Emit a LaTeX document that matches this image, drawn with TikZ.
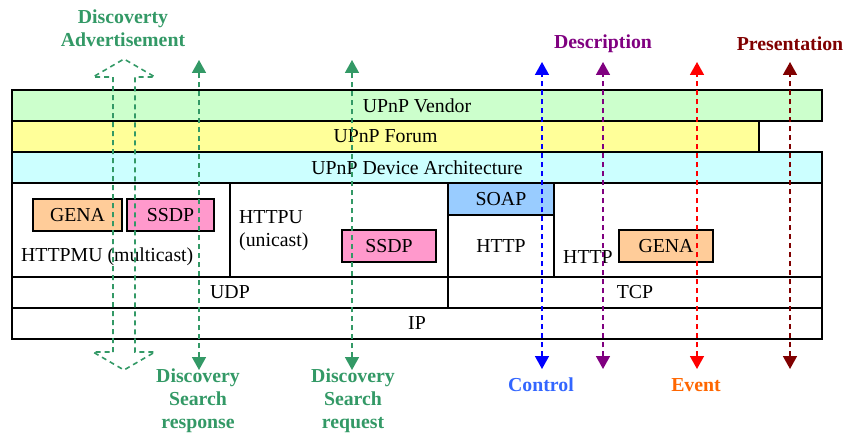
\documentclass[tikz,border=0pt]{standalone}
\usepackage{fontspec}
\setmainfont{Liberation Serif}
\usetikzlibrary{arrows.meta}
\definecolor{vendc}{HTML}{CCFFCC}
\definecolor{forumc}{HTML}{FFFF99}
\definecolor{archc}{HTML}{CCFFFF}
\definecolor{soapc}{HTML}{99CCFF}
\definecolor{genac}{HTML}{FFCC99}
\definecolor{ssdpc}{HTML}{FF99CC}
\definecolor{discc}{HTML}{339966}
\definecolor{ctrlc}{HTML}{0000FF}
\definecolor{ctrltxt}{HTML}{3366FF}
\definecolor{descc}{HTML}{800080}
\definecolor{evc}{HTML}{FF0000}
\definecolor{evtxt}{HTML}{FF6600}
\definecolor{presc}{HTML}{800000}
\begin{document}
\begin{tikzpicture}[x=1pt,y=-1pt,
  font=\fontsize{19.8}{23}\selectfont,
  box/.style={draw=black, line width=1.2pt, inner sep=0pt, outer sep=0pt},
  proto/.style={box, minimum height=32},
  lbl/.style={font=\fontsize{19.8}{23}\selectfont\bfseries, align=center, inner sep=0pt},
  flow/.style={dash pattern=on 5pt off 4pt, line width=1.6pt, {Triangle[length=13pt,width=14pt]}-{Triangle[length=13pt,width=14pt]}},
]
\useasboundingbox (0,0) rectangle (846,436);
% layers
\node[box, fill=vendc, minimum width=810, minimum height=31] (vendor) at (417,105.5) {UPnP Vendor};
\node[box, fill=forumc, minimum width=747, minimum height=31] (forum) at (385.5,136.5) {UPnP Forum};
\node[box, fill=archc, minimum width=810, minimum height=31] (arch) at (417,167.5) {UPnP Device Architecture};
\node[box, fill=white, minimum width=218, minimum height=94] (httpmu) at (121,230) {};
\node[box, fill=white, minimum width=218, minimum height=94] (httpu) at (339,230) {};
\node[box, fill=soapc, minimum width=106, minimum height=32] (soap) at (501,199) {SOAP};
\node[box, fill=white, minimum width=106, minimum height=62] (http1) at (501,246) {HTTP};
\node[box, fill=white, minimum width=268, minimum height=94] (http2) at (688,230) {};
\node[box, fill=white, minimum width=436, minimum height=31] (udp) at (230,292.5) {UDP};
\node[box, fill=white, minimum width=374, minimum height=31] (tcp) at (635,292.5) {TCP};
\node[box, fill=white, minimum width=810, minimum height=31] (ip) at (417,323.5) {IP};
% protocol boxes
\node[proto, fill=genac, minimum width=89] (gena1) at (77.5,215) {GENA};
\node[proto, fill=ssdpc, minimum width=87] (ssdp1) at (170.5,215) {SSDP};
\node[proto, fill=ssdpc, minimum width=94] (ssdp2) at (389,246) {SSDP};
\node[proto, fill=genac, minimum width=94] (gena2) at (666,246) {GENA};
% cell labels
\node[anchor=west, inner sep=0pt] (httpmutxt) at (21,257) {HTTPMU (multicast)};
\node[anchor=west, align=left, inner sep=0pt] (httputxt) at (239,230.5) {HTTPU\\(unicast)};
\node[anchor=west, inner sep=0pt] (http2txt) at (563,257) {HTTP};
% arrow end points
\coordinate (advT) at (124,59);
\coordinate (respT) at (199,60);
\coordinate (respB) at (199,370);
\coordinate (reqT) at (352,60);
\coordinate (reqB) at (352,370);
\coordinate (ctrlT) at (542,62);
\coordinate (ctrlB) at (542,369);
\coordinate (descT) at (603,62);
\coordinate (descB) at (603,369);
\coordinate (evT) at (697,62);
\coordinate (evB) at (697,369);
\coordinate (presT) at (790,62);
\coordinate (presB) at (790,369);
% hollow double arrow (advertisement)
\draw[discc, dash pattern=on 5pt off 4pt, line width=1.6pt, line join=miter]
  (113,352) -- (113,77) -- (93,77) -- (advT) -- (155,77) -- (135,77)
  -- (135,352) -- (155,352) -- (124,370) -- (93,352) -- cycle;
% flows
\draw[flow, discc] (respB) -- (respT);
\draw[flow, discc] (reqB) -- (reqT);
\draw[flow, ctrlc] (ctrlB) -- (ctrlT);
\draw[flow, descc] (descB) -- (descT);
\draw[flow, evc] (evB) -- (evT);
\draw[flow, presc] (presB) -- (presT);
% labels
\node[lbl, text=discc] (advtxt) at (123,28) {Discoverty\\Advertisement};
\node[lbl, text=descc] (desctxt) at (603,44) {Description};
\node[lbl, text=presc] (prestxt) at (790,44) {Presentation};
\node[lbl, text=ctrltxt] (ctrltxtn) at (541,385) {Control};
\node[lbl, text=evtxt] (evtxtn) at (696,385) {Event};
\node[lbl, text=discc] (resptxt) at (198,401) {Discovery\\Search\\response};
\node[lbl, text=discc] (reqtxt) at (353,401) {Discovery\\Search\\request};
\end{tikzpicture}
\end{document}
